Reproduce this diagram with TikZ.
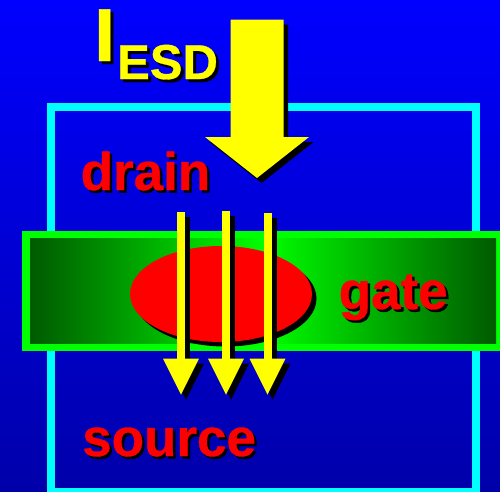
\documentclass[tikz,border=0pt]{standalone}
\usepackage{fontspec}
\setmainfont{Liberation Sans}[BoldFeatures={FakeBold=0.6}]
\usetikzlibrary{shadings}
\definecolor{esdblue}{RGB}{0, 0, 255}
\definecolor{esddeep}{RGB}{0, 0, 170}
\definecolor{esdcyan}{RGB}{0, 255, 255}
\definecolor{esdgreen}{RGB}{0, 255, 0}
\definecolor{esdforest}{RGB}{0, 90, 0}
\definecolor{esdred}{RGB}{255, 0, 0}
\definecolor{esdyellow}{RGB}{255, 255, 0}
\tikzset{
  bigtext/.style={anchor=base west, inner sep=0pt, font=\fontsize{53}{53}\selectfont\bfseries},
  esdtext/.style={anchor=base west, inner sep=0pt, font=\fontsize{49}{49}\selectfont\bfseries},
  itext/.style={anchor=base west, inner sep=0pt, font=\fontsize{75}{75}\selectfont\bfseries},
}
\begin{document}
\begin{tikzpicture}[x=1pt,y=-1pt]
\useasboundingbox (0,0) rectangle (500,491);
\clip (0,0) rectangle (500,491);
\shade[top color=esdblue, bottom color=esddeep] (0,0) rectangle (500,491);

% The cell
\draw[esdcyan, line width=8pt] (51,107) rectangle (475.5,492);

% The gate
\fill[esdgreen] (22,231) rectangle (510,351);
\shade[left color=esdforest, right color=esdforest, middle color=esdgreen] (30,238.5) rectangle (496,343);
\fill[black] (225.5,298.5) ellipse (91 and 48);
\fill[esdred] (221,294) ellipse (91 and 48);

% The three currents
\foreach \x/\t in {181/212,226/211,267.5/213} {
  \begin{scope}[shift={(\x,0)}]
  \fill[black] (1,\t+5) rectangle (9,363);
  \fill[black] (-13,363.5) -- (23,363.5) -- (5,399.5) -- cycle;
  \fill[esdyellow] (-4,\t) rectangle (4,359);
  \fill[esdyellow] (-18,358.5) -- (18,358.5) -- (0,394.5) -- cycle;
  \end{scope}
}

% The big current
\fill[black] (235,24.5) -- (288,24.5) -- (288,142) -- (313.5,142) -- (261.5,183) -- (209.5,142) -- (235,142) -- cycle;
\fill[esdyellow] (230.5,19.5) -- (283.5,19.5) -- (283.5,137) -- (309,137) -- (257,178) -- (205,137) -- (230.5,137) -- cycle;

% The labels
\node[itext, text=black] (ishadow) at (97,64) {I};
\node[itext, text=esdyellow] (iletter) at (94,61) {I};
\node[esdtext, text=black] (esdshadow) at (120,82) {ESD};
\node[esdtext, text=esdyellow] (esd) at (117,79) {ESD};
\node[bigtext, text=black] (drainshadow) at (83,192.5) {drain};
\node[bigtext, text=esdred] (drain) at (80.5,190) {drain};
\node[bigtext, text=black] (gateshadow) at (341,311.5) {gate};
\node[bigtext, text=esdred] (gate) at (338.5,309) {gate};
\node[bigtext, text=black] (sourceshadow) at (84.5,458.5) {source};
\node[bigtext, text=esdred] (source) at (82,456) {source};
\end{tikzpicture}
\end{document}
